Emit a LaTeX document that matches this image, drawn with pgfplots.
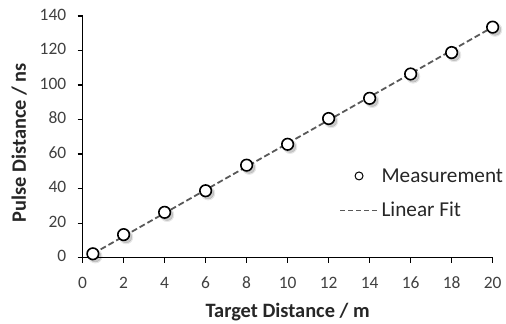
\documentclass[border=0pt]{standalone}
\usepackage{fontspec}
\setmainfont{Carlito}
\usepackage{pgfplots}
\pgfplotsset{compat=1.18}
\definecolor{tickgray}{HTML}{404040}
\definecolor{fitgray}{HTML}{595959}
\begin{document}
\begin{tikzpicture}
\begin{axis}[
  name=ax,
  scale only axis,
  width=412bp, height=243bp,
  xmin=0, xmax=20, ymin=0, ymax=140,
  axis lines*=left,
  axis line style={line width=1.3bp, black},
  xtick={0,2,...,20}, ytick={0,20,...,140},
  tick align=outside,
  major tick length=5bp,
  tick style={line width=1.3bp, black},
  /pgf/number format/assume math mode=true,
  typeset ticklabels with strut,
  ticklabel style={font=\fontsize{17.5bp}{21bp}\selectfont, text=tickgray},
  xticklabel style={yshift=-8bp},
  yticklabel style={xshift=-8bp},
  xlabel={\textbf{Target Distance / m}},
  ylabel={\textbf{Pulse Distance / ns}},
  label style={font=\fontsize{20.5bp}{24bp}\selectfont, text=black!85},
  xlabel style={yshift=-1bp},
  ylabel style={yshift=6bp, xshift=-6bp},
  legend style={draw=none, fill=none, at={(0.626,0.266)}, anchor=west,
    font=\fontsize{21.3bp}{25bp}\selectfont, text=black!85, inner sep=0pt,
    row sep=13bp, nodes={inner sep=3bp}},
  legend cell align=left,
]
% shadows
\addplot[only marks, mark=*, mark size=7bp, forget plot,
  mark options={draw=none, fill=black, opacity=0.07, xshift=2.5bp, yshift=-2.5bp}]
  coordinates {(0.5,2.3) (2,13.4) (4,26.3) (6,38.8) (8,53.6) (10,65.7) (12,80.6) (14,92.3) (16,106.4) (18,118.8) (20,133.5)};
\addplot[only marks, mark=*, mark size=5.8bp, forget plot,
  mark options={draw=none, fill=black, opacity=0.15, xshift=2.5bp, yshift=-2.5bp}]
  coordinates {(0.5,2.3) (2,13.4) (4,26.3) (6,38.8) (8,53.6) (10,65.7) (12,80.6) (14,92.3) (16,106.4) (18,118.8) (20,133.5)};
% fit line
\addplot[fitgray, line width=1.8bp, dash pattern=on 6bp off 3bp, forget plot]
  coordinates {(0.5,2.3) (20,133.5)};
% measurements
\addplot[only marks, mark=*, mark size=5.8bp,
  mark options={draw=black, fill=white, line width=1.6bp},
  legend image code/.code={\draw[mark=*, mark size=4bp, mark options={draw=black, fill=white, line width=1bp}] plot coordinates {(19bp,0bp)};}]
  coordinates {(0.5,2.3) (2,13.4) (4,26.3) (6,38.8) (8,53.6) (10,65.7) (12,80.6) (14,92.3) (16,106.4) (18,118.8) (20,133.5)};
\addlegendentry{Measurement}
\addlegendimage{legend image code/.code={\draw[fitgray, line width=1.3bp, dash pattern=on 5bp off 3bp] (0bp,0bp) -- (38bp,0bp);}}
\addlegendentry{Linear Fit}
\end{axis}
\path ([xshift=-83bp, yshift=-61bp]ax.south west) rectangle ([xshift=11bp, yshift=16bp]ax.north east);
\end{tikzpicture}
\end{document}
